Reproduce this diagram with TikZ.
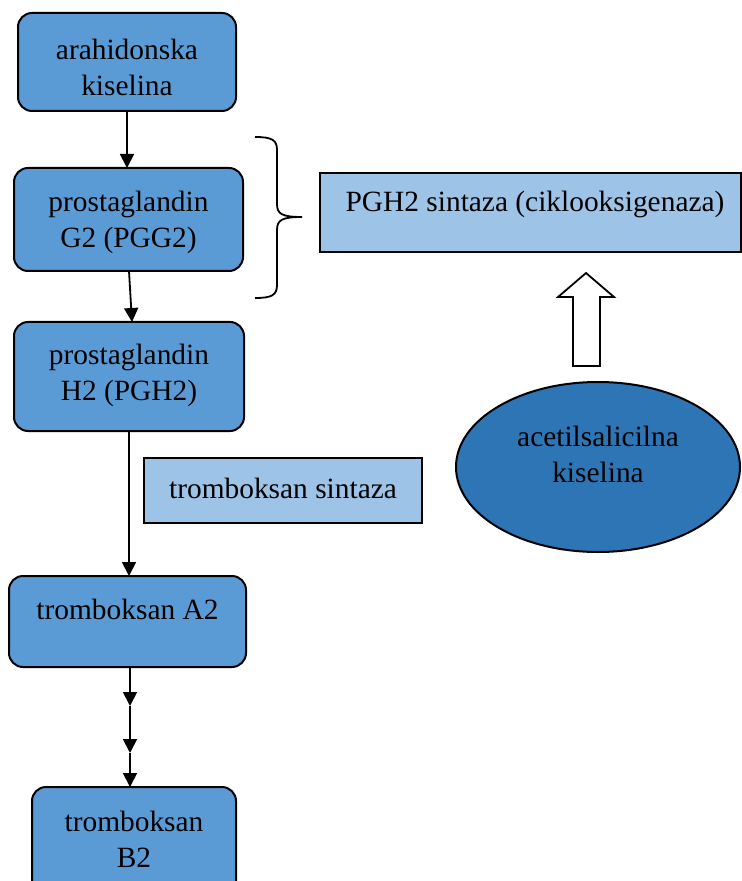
\documentclass[tikz,border=0pt]{standalone}
\usepackage{fontspec}
\setmainfont{Liberation Serif}
\usetikzlibrary{shapes.geometric,shapes.arrows,decorations.pathreplacing,arrows.meta}
\definecolor{boxblue}{HTML}{5B9BD5}
\definecolor{lightblue}{HTML}{9DC3E6}
\definecolor{darkblue}{HTML}{2E75B6}
\begin{document}
\begin{tikzpicture}[x=0.5pt,y=-0.5pt,
  every node/.style={font=\fontsize{14.7pt}{18pt}\selectfont, align=center, inner sep=0pt},
  rbox/.style={draw, line width=1pt, fill=boxblue, rounded corners=7pt},
  lbox/.style={draw, line width=0.8pt, fill=lightblue},
  arr/.style={-{Triangle[length=7pt,width=7pt]}, line width=0.9pt}]
\useasboundingbox (0,0) rectangle (741,881);
% main boxes
\node[rbox, minimum width=109pt, minimum height=49pt] (ak) at (127,62) {};
\node at (127,67) {arahidonska\\kiselina};
\node[rbox, minimum width=114.5pt, minimum height=51.5pt] (pgg) at (128.5,219.5) {};
\node at (128.5,222) {prostaglandin\\G2 (PGG2)};
\node[rbox, minimum width=115pt, minimum height=54.5pt] (pgh) at (129,376.5) {};
\node at (129,375) {prostaglandin\\H2 (PGH2)};
\node[rbox, minimum width=118.5pt, minimum height=45.5pt] (ta) at (127.5,621.5) {};
\node at (127.5,609) {tromboksan A2};
\begin{scope}
\clip (0,0) rectangle (741,881);
\node[rbox, minimum width=102pt, minimum height=60pt] (tb) at (134,847) {};
\end{scope}
\node at (134,839) {tromboksan\\B2};
% enzyme boxes
\node[lbox, minimum width=210.5pt, minimum height=39.5pt] (pghs) at (530.5,212.5) {};
\node at (535,204) {PGH2 sintaza (ciklooksigenaza)};
\node[lbox, minimum width=139pt, minimum height=32.5pt] (txs) at (283,490.5) {};
\node at (283,488) {tromboksan sintaza};
% ellipse
\node[ellipse, draw, line width=1pt, fill=darkblue, minimum width=142pt, minimum height=85pt] (asa) at (598,467) {};
\node at (598,454) {acetilsalicilna\\kiselina};
% arrows
\coordinate (a1) at (127,111);
\coordinate (a2) at (127,168);
\draw[arr] (a1) -- (a2);
\coordinate (p1) at (129,271);
\coordinate (p2) at (132,322);
\draw[arr] (p1) -- (p2);
\coordinate (q1) at (129,431);
\coordinate (q2) at (129,576);
\draw[arr] (q1) -- (q2);
\coordinate (m0) at (130,667);
\coordinate (m1) at (130,706);
\coordinate (m2) at (130,753);
\coordinate (m3) at (130,787);
\draw[arr] (m0) -- (m1);
\draw[arr] (m1) -- (m2);
\draw[arr] (m2) -- (m3);
% hollow arrow
\coordinate (ha) at (586,273);
\draw[line width=0.9pt, fill=white] (573,366) -- (573,297) -- (558,297) -- (ha) -- (614,297) -- (600,297) -- (600,366) -- cycle;
% brace
\draw[line width=0.9pt] (255,137) .. controls (272,137) and (277,140) .. (277,150)
  -- (277,204) .. controls (277,214) and (282,217) .. (302,217)
  .. controls (282,217) and (277,220) .. (277,230)
  -- (277,285) .. controls (277,295) and (272,298) .. (255,298);
\end{tikzpicture}
\end{document}
